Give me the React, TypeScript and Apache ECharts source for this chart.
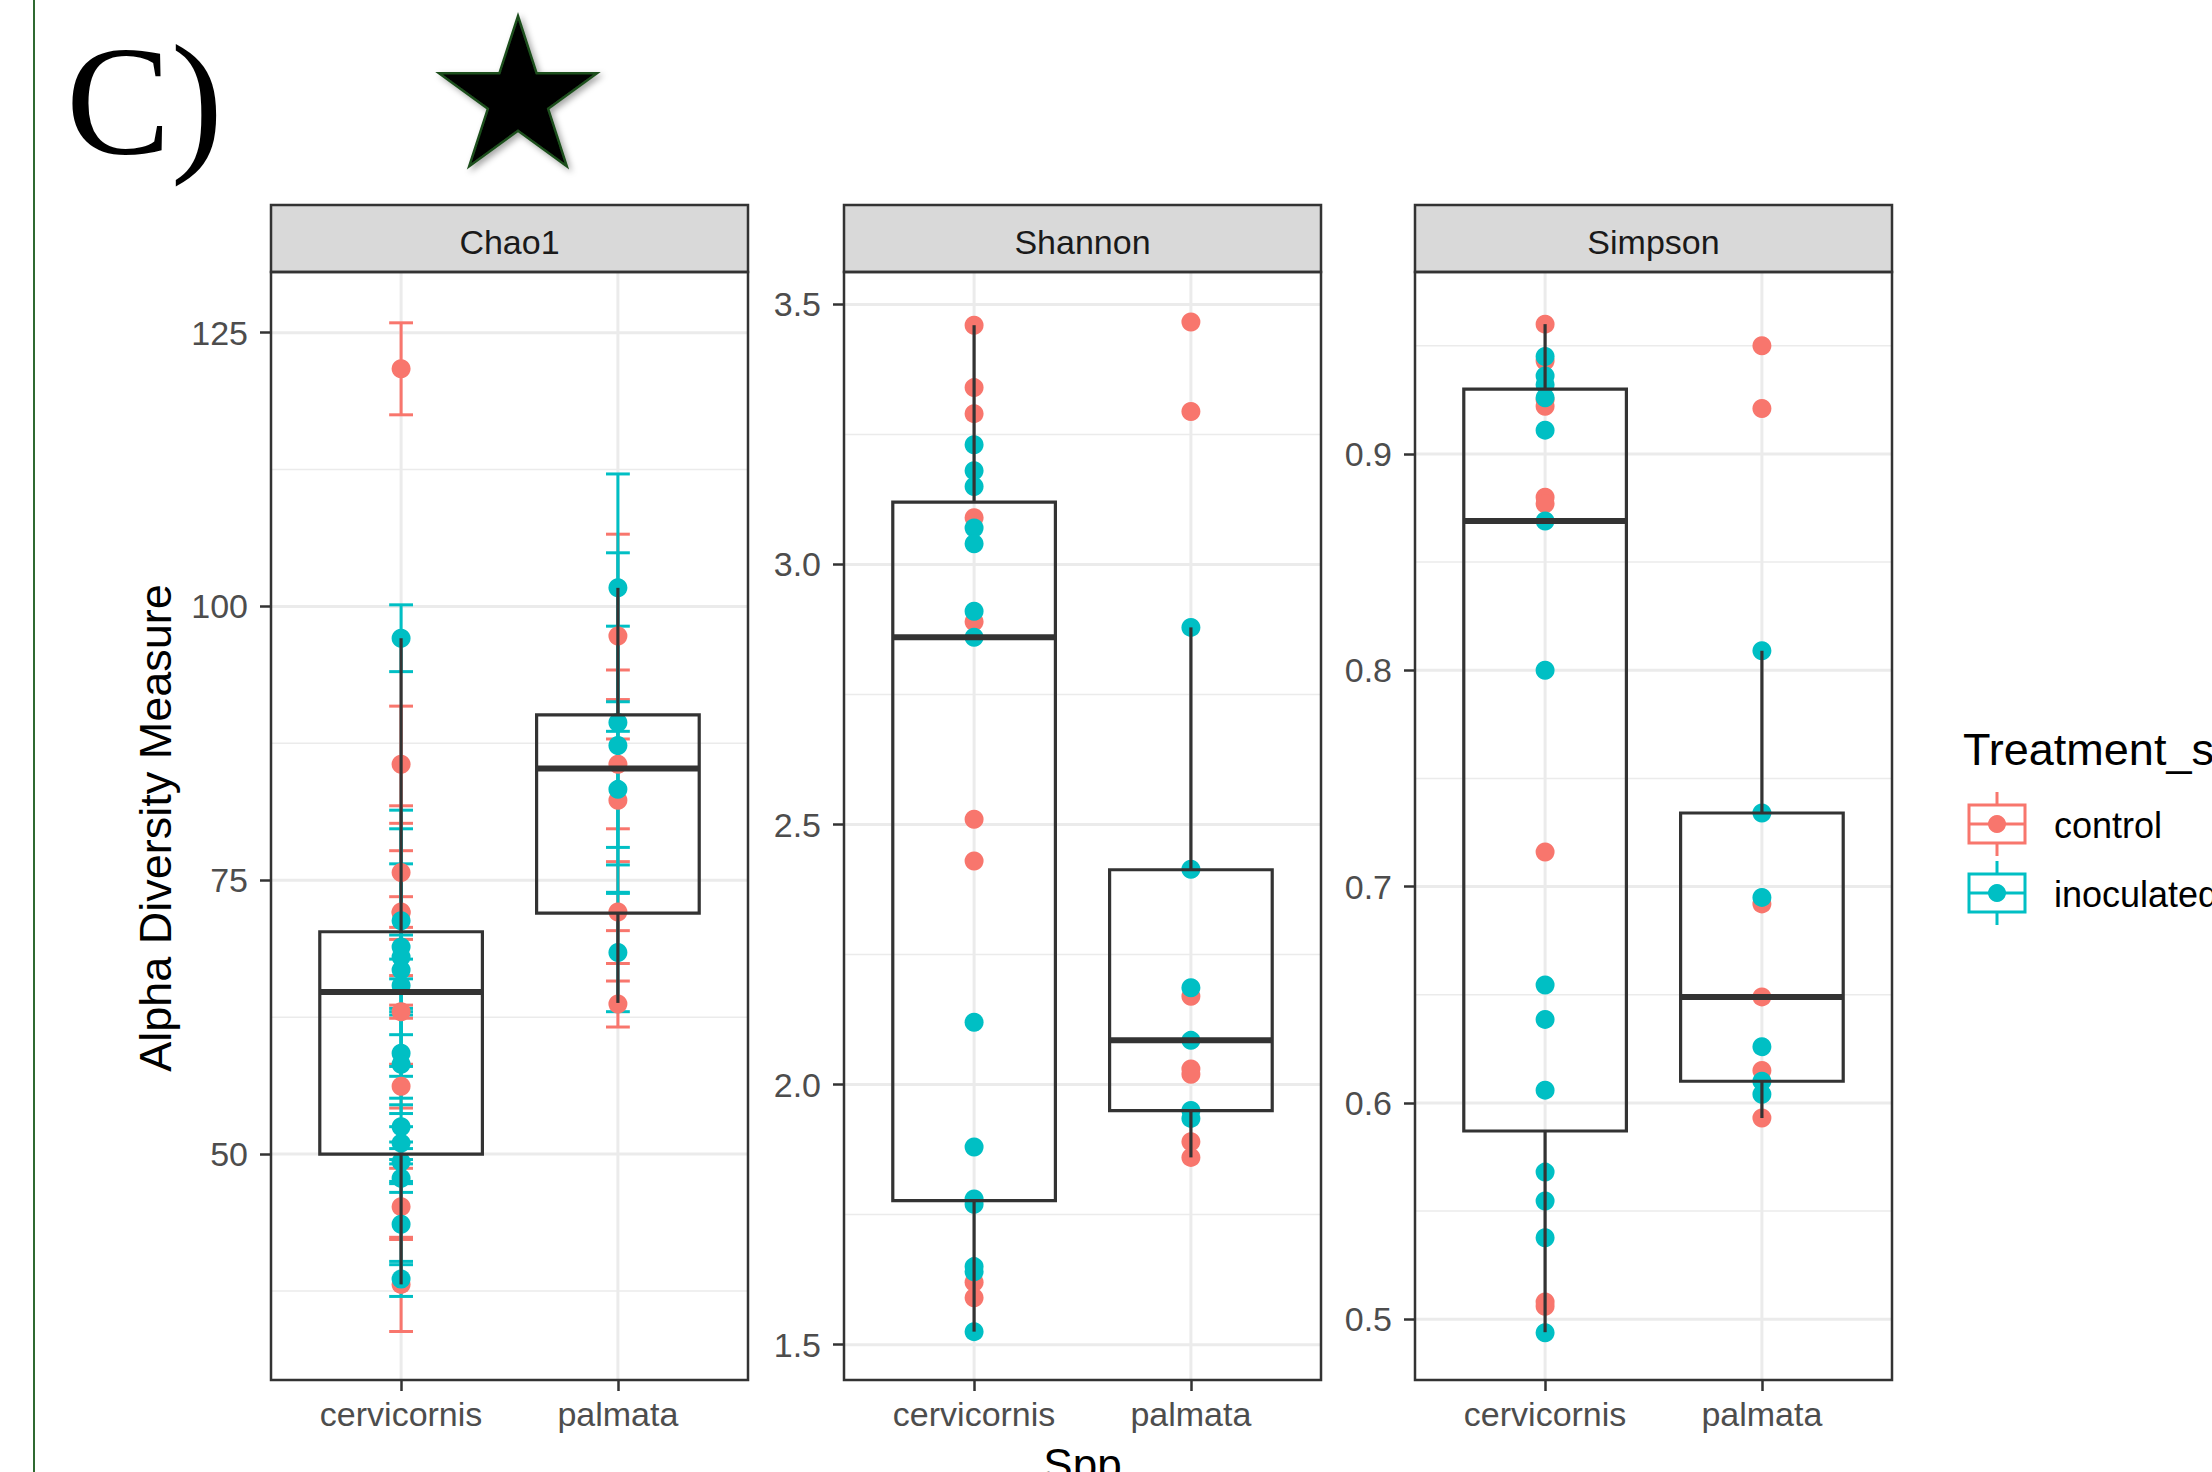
import React, { useEffect, useRef } from "react";
import * as echarts from "echarts";

// ---------------- data ----------------
const SPP = ["cervicornis", "palmata"];
const FACETS = ["Chao1", "Shannon", "Simpson"];
const TREATMENTS = ["control", "inoculated"];
const TREAT_COLORS = ["#F8766D", "#00BFC4"];

// Chao1 (value, lower / upper error bar)
const chao1CervControl = [121.7, 85.6, 75.7, 72.1, 72.0, 63.0, 56.2, 45.2, 38.1];
const chao1CervControlLo = [117.5, 80.2, 69.6, 70.7, 66.3, 62.4, 54.2, 42.2, 33.8];
const chao1CervControlHi = [125.9, 90.9, 81.8, 73.5, 77.7, 63.6, 58.2, 48.7, 42.4];
const chao1CervInoc = [97.1, 71.3, 68.9, 68.0, 66.8, 65.4, 59.2, 58.2, 52.5, 51.0, 49.3, 47.8, 43.6, 38.6];
const chao1CervInocLo = [94.05, 60.9, 58.0, 66.0, 57.1, 63.0, 55.1, 53.7, 50.5, 49.5, 47.5, 46.5, 39.9, 37.0];
const chao1CervInocHi = [100.15, 81.4, 79.7, 70.0, 76.5, 67.8, 63.3, 62.7, 54.5, 52.5, 51.1, 49.1, 47.3, 40.2];
const chao1PalmControl = [97.3, 85.6, 82.3, 72.1, 63.7];
const chao1PalmControlLo = [87.9, 79.7, 70.4, 67.4, 61.6];
const chao1PalmControlHi = [106.6, 91.5, 94.2, 76.7, 65.8];
const chao1PalmInoc = [101.7, 89.4, 87.3, 83.3, 68.4];
const chao1PalmInocLo = [91.3, 73.9, 76.4, 78.0, 63.0];
const chao1PalmInocHi = [112.1, 104.9, 98.2, 88.6, 73.8];
// box stats: min, q1, median, q3, max
const chao1BoxCerv = [38.1, 50.0, 64.8, 70.3, 97.1];
const chao1BoxPalm = [63.8, 72.0, 85.2, 90.1, 101.7];

// Shannon
const shannonCervControl = [3.46, 3.34, 3.29, 3.09, 2.89, 2.51, 2.43, 1.62, 1.59];
const shannonCervInoc = [3.23, 3.18, 3.15, 3.07, 3.04, 2.91, 2.86, 2.12, 1.88, 1.78, 1.77, 1.65, 1.64, 1.525];
const shannonPalmControl = [3.466, 3.294, 2.17, 2.03, 2.02, 1.89, 1.86];
const shannonPalmInoc = [2.879, 2.414, 2.186, 2.085, 1.95, 1.935];
const shannonBoxCerv = [1.525, 1.777, 2.86, 3.12, 3.46];
const shannonBoxPalm = [1.86, 1.95, 2.085, 2.413, 2.879];

// Simpson
const simpsonCervControl = [0.96, 0.943, 0.925, 0.922, 0.88, 0.877, 0.716, 0.508, 0.506];
const simpsonCervInoc = [0.945, 0.936, 0.932, 0.926, 0.911, 0.869, 0.8, 0.6545, 0.6386, 0.6059, 0.568, 0.5546, 0.5377, 0.4937];
const simpsonPalmControl = [0.95, 0.921, 0.692, 0.649, 0.615, 0.593];
const simpsonPalmInoc = [0.809, 0.734, 0.695, 0.626, 0.61, 0.604];
const simpsonBoxCerv = [0.494, 0.587, 0.869, 0.93, 0.96];
const simpsonBoxPalm = [0.593, 0.61, 0.649, 0.734, 0.809];

// axes
const chao1Range = [29.37, 130.54];
const chao1Ticks = [50, 75, 100, 125];
const chao1Minor = [37.5, 62.5, 87.5, 112.5];
const shannonRange = [1.432, 3.5623];
const shannonTicks = [1.5, 2.0, 2.5, 3.0, 3.5];
const shannonMinor = [1.75, 2.25, 2.75, 3.25];
const simpsonRange = [0.4719, 0.9841];
const simpsonTicks = [0.5, 0.6, 0.7, 0.8, 0.9];
const simpsonMinor = [0.55, 0.65, 0.75, 0.85, 0.95];

// ---------------- layout ----------------
const W = 2212;
const H = 1472;
const PANEL_LEFTS = [271, 844, 1415];
const PANEL_W = 477;
const PLOT_TOP = 272;
const PLOT_BOTTOM = 1380;
const STRIP_TOP = 205;
const FONT = "'Liberation Sans', Arial, Helvetica, sans-serif";
const SERIF = "'Liberation Serif', 'Times New Roman', serif";

type Panel = {
  name: string;
  range: number[];
  ticks: number[];
  minor: number[];
  fmt: (v: number) => string;
  boxes: number[][];
  points: { spp: number; t: number; v: number[]; lo?: number[]; hi?: number[] }[];
};

const panels: Panel[] = [
  {
    name: FACETS[0],
    range: chao1Range,
    ticks: chao1Ticks,
    minor: chao1Minor,
    fmt: (v) => String(Math.round(v)),
    boxes: [chao1BoxCerv, chao1BoxPalm],
    points: [
      { spp: 0, t: 0, v: chao1CervControl, lo: chao1CervControlLo, hi: chao1CervControlHi },
      { spp: 0, t: 1, v: chao1CervInoc, lo: chao1CervInocLo, hi: chao1CervInocHi },
      { spp: 1, t: 0, v: chao1PalmControl, lo: chao1PalmControlLo, hi: chao1PalmControlHi },
      { spp: 1, t: 1, v: chao1PalmInoc, lo: chao1PalmInocLo, hi: chao1PalmInocHi },
    ],
  },
  {
    name: FACETS[1],
    range: shannonRange,
    ticks: shannonTicks,
    minor: shannonMinor,
    fmt: (v) => v.toFixed(1),
    boxes: [shannonBoxCerv, shannonBoxPalm],
    points: [
      { spp: 0, t: 0, v: shannonCervControl },
      { spp: 0, t: 1, v: shannonCervInoc },
      { spp: 1, t: 0, v: shannonPalmControl },
      { spp: 1, t: 1, v: shannonPalmInoc },
    ],
  },
  {
    name: FACETS[2],
    range: simpsonRange,
    ticks: simpsonTicks,
    minor: simpsonMinor,
    fmt: (v) => v.toFixed(1),
    boxes: [simpsonBoxCerv, simpsonBoxPalm],
    points: [
      { spp: 0, t: 0, v: simpsonCervControl },
      { spp: 0, t: 1, v: simpsonCervInoc },
      { spp: 1, t: 0, v: simpsonPalmControl },
      { spp: 1, t: 1, v: simpsonPalmInoc },
    ],
  },
];

function buildOption() {
  const grid: any[] = [];
  const xAxis: any[] = [];
  const yAxis: any[] = [];
  const series: any[] = [];
  const elements: any[] = [];

  panels.forEach((p, i) => {
    const left = PANEL_LEFTS[i];
    grid.push({ left, top: PLOT_TOP, width: PANEL_W, height: PLOT_BOTTOM - PLOT_TOP, show: false });
    xAxis.push({
      type: "value",
      gridIndex: i,
      min: 0.4,
      max: 2.6,
      axisLine: { show: false },
      splitLine: { show: false },
      axisTick: { show: true, customValues: [1, 2], length: 11, lineStyle: { color: "#333333", width: 2.5 } },
      axisLabel: {
        show: true,
        customValues: [1, 2],
        formatter: (v: number) => SPP[Math.round(v) - 1],
        margin: 17,
        color: "#4D4D4D",
        fontSize: 34,
        fontFamily: FONT,
      },
    });
    yAxis.push({
      type: "value",
      gridIndex: i,
      min: p.range[0],
      max: p.range[1],
      axisLine: { show: false },
      splitLine: { show: false },
      axisTick: { show: true, customValues: p.ticks, length: 11, lineStyle: { color: "#333333", width: 2.5 } },
      axisLabel: {
        show: true,
        customValues: p.ticks,
        formatter: p.fmt,
        margin: 23,
        color: "#4D4D4D",
        fontSize: 34,
        fontFamily: FONT,
      },
    });

    // grid lines
    const mid = (p.range[0] + p.range[1]) / 2;
    const gridData: number[][] = [];
    p.minor.forEach((t) => gridData.push([1.5, t, 0, 0]));
    p.ticks.forEach((t) => gridData.push([1.5, t, 0, 1]));
    [1, 2].forEach((x) => gridData.push([x, mid, 1, 1]));
    series.push({
      type: "custom",
      xAxisIndex: i,
      yAxisIndex: i,
      z: 1,
      silent: true,
      data: gridData,
      renderItem: (params: any, api: any) => {
        const cs = params.coordSys;
        const o = api.value(2);
        const major = api.value(3);
        const style = { stroke: "#EBEBEB", lineWidth: major ? 3 : 1.5 };
        if (o === 0) {
          const y = api.coord([1.5, api.value(1)])[1];
          return { type: "line", shape: { x1: cs.x, y1: y, x2: cs.x + cs.width, y2: y }, style };
        }
        const x = api.coord([api.value(0), api.value(1)])[0];
        return { type: "line", shape: { x1: x, y1: cs.y, x2: x, y2: cs.y + cs.height }, style };
      },
    });

    // error bars
    const ebData: number[][] = [];
    p.points.forEach((g) => {
      if (!g.lo || !g.hi) return;
      g.v.forEach((v, k) => ebData.push([g.spp + 1, v, g.lo![k], g.hi![k], g.t]));
    });
    if (ebData.length) {
      series.push({
        type: "custom",
        xAxisIndex: i,
        yAxisIndex: i,
        z: 2,
        silent: true,
        data: ebData,
        renderItem: (params: any, api: any) => {
          const x = api.value(0);
          const top = api.coord([x, api.value(3)]);
          const bot = api.coord([x, api.value(2)]);
          const half = api.size([0.055, 0])[0];
          const color = TREAT_COLORS[api.value(4)];
          const mk = () => ({ stroke: color, lineWidth: 3 });
          return {
            type: "group",
            children: [
              { type: "line", shape: { x1: top[0], y1: top[1], x2: bot[0], y2: bot[1] }, style: mk() },
              { type: "line", shape: { x1: top[0] - half, y1: top[1], x2: top[0] + half, y2: top[1] }, style: mk() },
              { type: "line", shape: { x1: bot[0] - half, y1: bot[1], x2: bot[0] + half, y2: bot[1] }, style: mk() },
            ],
          };
        },
      });
    }

    // points
    TREATMENTS.forEach((tName, t) => {
      const data: number[][] = [];
      p.points.filter((g) => g.t === t).forEach((g) => g.v.forEach((v) => data.push([g.spp + 1, v])));
      series.push({
        type: "scatter",
        name: tName,
        xAxisIndex: i,
        yAxisIndex: i,
        z: 3 + t,
        symbol: "circle",
        symbolSize: 19,
        itemStyle: { color: TREAT_COLORS[t], opacity: 1 },
        silent: true,
        data,
      });
    });

    // boxplots
    series.push({
      type: "custom",
      xAxisIndex: i,
      yAxisIndex: i,
      z: 6,
      silent: true,
      data: p.boxes.map((b, k) => [k + 1, ...b]),
      renderItem: (params: any, api: any) => {
        const x = api.value(0);
        const pMin = api.coord([x, api.value(1)]);
        const pQ1 = api.coord([x, api.value(2)]);
        const pMed = api.coord([x, api.value(3)]);
        const pQ3 = api.coord([x, api.value(4)]);
        const pMax = api.coord([x, api.value(5)]);
        const half = api.size([0.375, 0])[0];
        const xc = pMed[0];
        const st = (w: number) => ({ stroke: "#333333", lineWidth: w, fill: "none" });
        return {
          type: "group",
          children: [
            { type: "line", shape: { x1: xc, y1: pQ3[1], x2: xc, y2: pMax[1] }, style: st(3.2) },
            { type: "line", shape: { x1: xc, y1: pQ1[1], x2: xc, y2: pMin[1] }, style: st(3.2) },
            { type: "rect", shape: { x: xc - half, y: pQ3[1], width: 2 * half, height: pQ1[1] - pQ3[1] }, style: st(3.2) },
            { type: "line", shape: { x1: xc - half, y1: pMed[1], x2: xc + half, y2: pMed[1] }, style: st(6) },
          ],
        };
      },
    });

    // strip + border
    elements.push({
      type: "rect",
      z: 100,
      shape: { x: left, y: STRIP_TOP, width: PANEL_W, height: PLOT_TOP - STRIP_TOP },
      style: { fill: "#D9D9D9", stroke: "#333333", lineWidth: 2.5 },
    });
    elements.push({
      type: "text",
      z: 101,
      x: left + PANEL_W / 2,
      y: (STRIP_TOP + PLOT_TOP) / 2 + 3,
      style: { text: p.name, font: `34px ${FONT}`, fill: "#1A1A1A", textAlign: "center", textVerticalAlign: "middle" },
    });
    elements.push({
      type: "rect",
      z: 100,
      shape: { x: left, y: PLOT_TOP, width: PANEL_W, height: PLOT_BOTTOM - PLOT_TOP },
      style: { fill: "none", stroke: "#333333", lineWidth: 2.5 },
    });
  });

  // decorations
  elements.push({
    type: "line",
    z: 100,
    shape: { x1: 34, y1: 0, x2: 34, y2: H },
    style: { stroke: "#2F6A31", lineWidth: 2 },
  });
  elements.push({
    type: "text",
    z: 100,
    x: 66,
    y: 100,
    style: { text: "C)", font: `157px ${SERIF}`, fill: "#000000", textAlign: "left", textVerticalAlign: "middle" },
  });
  const starCx = 518;
  const starCy = 99;
  const starR = 83;
  const starPts: number[][] = [];
  for (let k = 0; k < 10; k++) {
    const r = k % 2 === 0 ? starR : starR * 0.382;
    const a = -Math.PI / 2 + (k * Math.PI) / 5;
    starPts.push([starCx + r * Math.cos(a), starCy + r * Math.sin(a)]);
  }
  elements.push({
    type: "polygon",
    z: 100,
    shape: { points: starPts },
    style: {
      fill: "#000000",
      stroke: "#1F4F1F",
      lineWidth: 2.5,
      shadowBlur: 6,
      shadowColor: "rgba(0,0,0,0.35)",
      shadowOffsetX: 3,
      shadowOffsetY: 3,
    },
  });

  // axis titles
  elements.push({
    type: "text",
    z: 100,
    x: 155,
    y: (PLOT_TOP + PLOT_BOTTOM) / 2 + 2,
    rotation: Math.PI / 2,
    style: { text: "Alpha Diversity Measure", font: `45px ${FONT}`, fill: "#000000", textAlign: "center", textVerticalAlign: "middle" },
  });
  elements.push({
    type: "text",
    z: 100,
    x: PANEL_LEFTS[1] + PANEL_W / 2,
    y: 1442,
    style: { text: "Spp", font: `44px ${FONT}`, fill: "#000000", textAlign: "center", textVerticalAlign: "top" },
  });

  // legend
  elements.push({
    type: "text",
    z: 100,
    x: 1963,
    y: 749,
    style: { text: "Treatment_status", font: `45px ${FONT}`, fill: "#000000", textAlign: "left", textVerticalAlign: "middle" },
  });
  const keyCy = [824, 893];
  TREATMENTS.forEach((tName, t) => {
    const cy = keyCy[t];
    const c = TREAT_COLORS[t];
    const cx = 1997;
    elements.push({ type: "line", z: 100, shape: { x1: cx, y1: cy - 32, x2: cx, y2: cy + 32 }, style: { stroke: c, lineWidth: 3 } });
    elements.push({ type: "rect", z: 101, shape: { x: 1969, y: cy - 19, width: 56, height: 38 }, style: { fill: "#FFFFFF", stroke: c, lineWidth: 3 } });
    elements.push({ type: "line", z: 102, shape: { x1: 1969, y1: cy, x2: 2025, y2: cy }, style: { stroke: c, lineWidth: 3 } });
    elements.push({ type: "circle", z: 103, shape: { cx, cy, r: 9 }, style: { fill: c } });
    elements.push({
      type: "text",
      z: 100,
      x: 2054,
      y: cy + 1,
      style: { text: tName, font: `36px ${FONT}`, fill: "#000000", textAlign: "left", textVerticalAlign: "middle" },
    });
  });

  return {
    animation: false,
    backgroundColor: "#FFFFFF",
    grid,
    xAxis,
    yAxis,
    series,
    graphic: { elements },
  };
}

export default function App() {
  const ref = useRef<HTMLDivElement>(null);
  useEffect(() => {
    document.body.style.margin = "0";
    const chart = echarts.init(ref.current!, null, { renderer: "svg", width: W, height: H });
    chart.setOption(buildOption() as any);
    return () => chart.dispose();
  }, []);
  return <div ref={ref} style={{ width: W, height: H, overflow: "hidden", background: "#fff" }} />;
}
